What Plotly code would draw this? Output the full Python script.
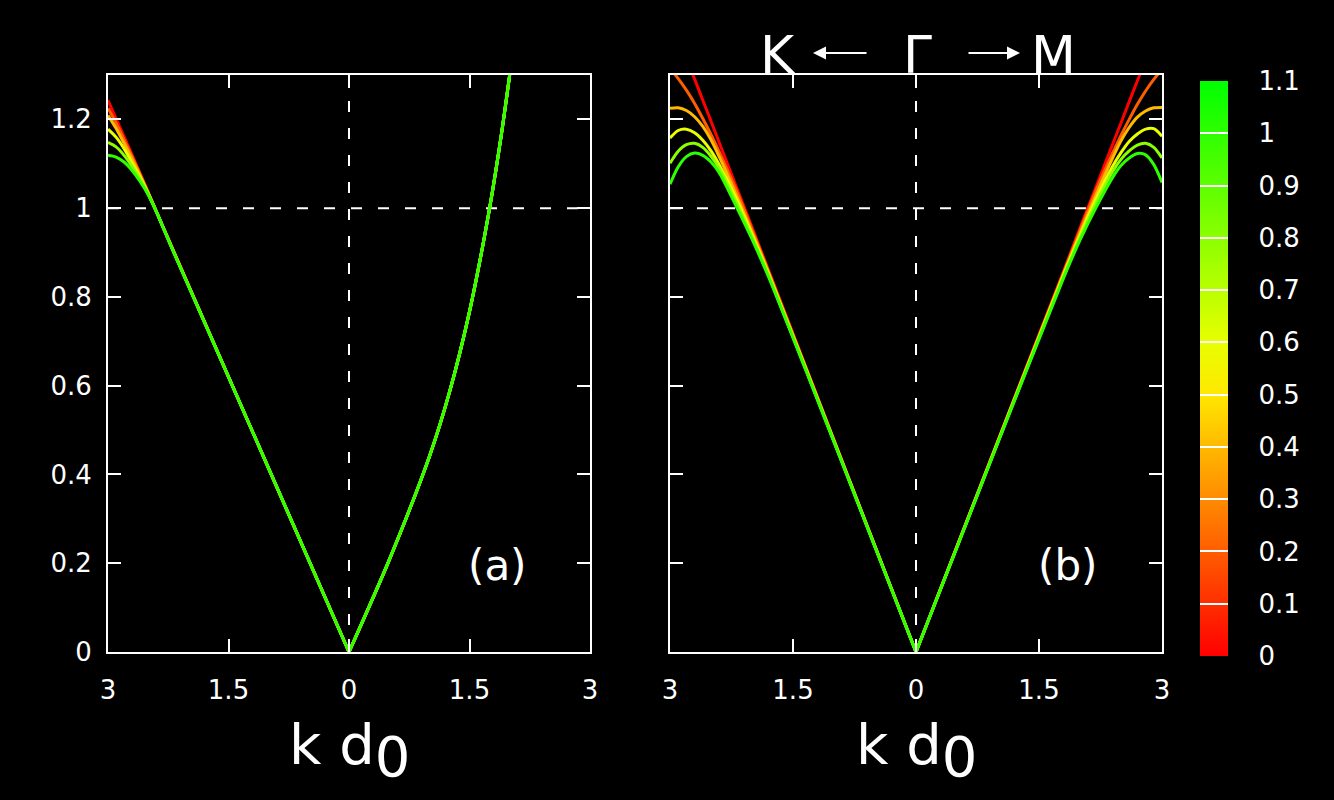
import colorsys
import plotly.graph_objects as go

# ---------------- data ----------------
PARAM = [0.0, 0.2, 0.4, 0.6, 0.8, 1.0]
CB_TICKS = [0, 0.1, 0.2, 0.3, 0.4, 0.5, 0.6, 0.7, 0.8, 0.9, 1.0, 1.1]

X_TICKVALS = [-3, -1.5, 0, 1.5, 3]
X_TICKTEXT = ["3", "1.5", "0", "1.5", "3"]
Y_TICKVALS = [0, 0.2, 0.4, 0.6, 0.8, 1.0, 1.2]
Y_TICKTEXT = ["0", "0.2", "0.4", "0.6", "0.8", "1", "1.2"]

# panel (a): K direction (left branch), one curve per parameter
A_LEFT_X = [-3.0, -2.9, -2.8, -2.7, -2.6, -2.5, -2.4, -2.2, -1.5, 0.0]
A_LEFT_Y = [
    [1.243, 1.202, 1.161, 1.120, 1.078, 1.036, 0.994, 0.911, 0.620, 0.0],
    [1.225, 1.192, 1.154, 1.116, 1.076, 1.035, 0.993, 0.910, 0.620, 0.0],
    [1.209, 1.180, 1.146, 1.110, 1.073, 1.034, 0.993, 0.909, 0.620, 0.0],
    [1.178, 1.160, 1.134, 1.102, 1.069, 1.033, 0.993, 0.909, 0.620, 0.0],
    [1.148, 1.138, 1.119, 1.094, 1.065, 1.032, 0.993, 0.908, 0.620, 0.0],
    [1.119, 1.115, 1.104, 1.085, 1.060, 1.030, 0.993, 0.908, 0.620, 0.0],
]
# panel (a): M direction (all curves coincide)
A_RIGHT_X = [0.0, 0.5, 1.0, 1.25, 1.5, 1.75, 1.9, 2.0]
A_RIGHT_Y = [0.0, 0.207, 0.44, 0.585, 0.767, 1.0, 1.17, 1.3]

# panel (b)
B_LEFT_X = [-3.0, -2.9, -2.8, -2.7, -2.6, -2.5, -2.4, -2.2, -2.0, -1.8, -1.0, 0.0]
B_LEFT_Y = [
    [1.430, 1.384, 1.338, 1.291, 1.243, 1.196, 1.148, 1.052, 0.957, 0.861, 0.478, 0.0],
    [1.315, 1.292, 1.266, 1.236, 1.202, 1.166, 1.127, 1.044, 0.952, 0.858, 0.477, 0.0],
    [1.225, 1.226, 1.220, 1.206, 1.184, 1.154, 1.116, 1.033, 0.945, 0.855, 0.476, 0.0],
    [1.158, 1.175, 1.178, 1.170, 1.153, 1.129, 1.098, 1.025, 0.940, 0.852, 0.475, 0.0],
    [1.101, 1.128, 1.143, 1.146, 1.137, 1.117, 1.090, 1.016, 0.935, 0.849, 0.474, 0.0],
    [1.054, 1.093, 1.116, 1.124, 1.119, 1.104, 1.080, 1.007, 0.930, 0.846, 0.473, 0.0],
]
B_RIGHT_X = [0.0, 1.0, 1.8, 2.0, 2.2, 2.4, 2.5, 2.6, 2.7, 2.8, 2.9, 3.0]
B_RIGHT_Y = [
    [0.0, 0.477, 0.858, 0.955, 1.050, 1.145, 1.192, 1.240, 1.287, 1.334, 1.380, 1.430],
    [0.0, 0.476, 0.855, 0.950, 1.042, 1.125, 1.164, 1.200, 1.234, 1.264, 1.290, 1.313],
    [0.0, 0.475, 0.852, 0.943, 1.031, 1.114, 1.152, 1.182, 1.205, 1.219, 1.226, 1.227],
    [0.0, 0.474, 0.850, 0.938, 1.022, 1.095, 1.125, 1.150, 1.167, 1.178, 1.179, 1.162],
    [0.0, 0.473, 0.846, 0.933, 1.013, 1.083, 1.110, 1.129, 1.142, 1.146, 1.137, 1.113],
    [0.0, 0.472, 0.843, 0.928, 1.003, 1.070, 1.096, 1.113, 1.123, 1.120, 1.098, 1.058],
]

# ---------------- style ----------------
W, H = 1334, 800
FONT = "DejaVu Sans"
CMAX = 1.1


def hue_color(v):
    h = (v / CMAX) * 120.0 / 360.0
    r, g, b = colorsys.hsv_to_rgb(h, 1.0, 1.0)
    return f"rgb({round(r*255)},{round(g*255)},{round(b*255)})"


colorscale = [[t / CMAX, hue_color(t)] for t in CB_TICKS]


def px_x(p):
    return p / W


def px_y(p):
    return 1 - p / H


fig = go.Figure()


def add_curve(xs, ys, color, xa, ya):
    fig.add_trace(go.Scatter(x=xs, y=ys, mode="lines",
                             line=dict(color=color, width=3, shape="spline", smoothing=0.8),
                             xaxis=xa, yaxis=ya, showlegend=False, hoverinfo="skip"))


for i, p in enumerate(PARAM):
    c = hue_color(p)
    add_curve(A_LEFT_X, A_LEFT_Y[i], c, "x", "y")
for i, p in enumerate(PARAM):
    c = hue_color(p)
    add_curve(A_RIGHT_X, A_RIGHT_Y, c, "x", "y")
for i, p in enumerate(PARAM):
    c = hue_color(p)
    add_curve(B_LEFT_X, B_LEFT_Y[i], c, "x2", "y2")
    add_curve(B_RIGHT_X, B_RIGHT_Y[i], c, "x2", "y2")

# colorbar carrier (off-range marker)
fig.add_trace(go.Scatter(
    x=[0], y=[-5], mode="markers", xaxis="x2", yaxis="y2", showlegend=False, hoverinfo="skip",
    marker=dict(color=[0], colorscale=colorscale, cmin=0, cmax=CMAX, showscale=True,
                colorbar=dict(
                    x=px_x(1200), xanchor="left", y=px_y(368.5), yanchor="middle",
                    thickness=28, thicknessmode="pixels", len=575, lenmode="pixels",
                    xpad=0, ypad=0, outlinewidth=0,
                    tickmode="array", tickvals=CB_TICKS,
                    ticktext=["\u00a0\u00a0\u00a0" + (f"{t:g}") for t in CB_TICKS],
                    ticks="inside", ticklen=28, tickwidth=2, tickcolor="white",
                    tickfont=dict(family=FONT, size=26, color="white"),
                    bgcolor="rgba(0,0,0,0)"))))

axis_common = dict(showline=True, linecolor="white", linewidth=2, mirror="allticks",
                   ticks="inside", ticklen=13, tickwidth=2, tickcolor="white",
                   showgrid=False, zeroline=False, automargin=False,
                   tickfont=dict(family=FONT, size=26, color="white"))

fig.update_layout(
    width=W, height=H, margin=dict(l=0, r=0, t=0, b=0, autoexpand=False),
    paper_bgcolor="black", plot_bgcolor="black",
    font=dict(family=FONT, color="white"),
    xaxis=dict(domain=[px_x(108), px_x(590)], range=[-3, 3], tickvals=X_TICKVALS,
               ticktext=X_TICKTEXT, anchor="y", ticklabelstandoff=14, **axis_common),
    yaxis=dict(domain=[px_y(652), px_y(75)], range=[0, 1.3], tickvals=Y_TICKVALS,
               ticktext=Y_TICKTEXT, anchor="x", ticklabelstandoff=9, **axis_common),
    xaxis2=dict(domain=[px_x(670), px_x(1162)], range=[-3, 3], tickvals=X_TICKVALS,
                ticktext=X_TICKTEXT, anchor="y2", ticklabelstandoff=14, **axis_common),
    yaxis2=dict(domain=[px_y(652), px_y(75)], range=[0, 1.3], tickvals=Y_TICKVALS,
                showticklabels=False, anchor="x2", **axis_common),
)

# dashed guide lines
for xr, yr in (("x", "y"), ("x2", "y2")):
    fig.add_shape(type="line", xref=xr, yref=yr, x0=0, x1=0, y0=0, y1=1.3,
                  line=dict(color="white", width=2, dash="11px,16px"), layer="below")
    fig.add_shape(type="line", xref=xr, yref=yr, x0=-3, x1=3, y0=1, y1=1,
                  line=dict(color="white", width=2, dash="11px,16px"), layer="below")

ann = []
# panel labels
ann.append(dict(text="(a)", x=1.85, y=0.195, xref="x", yref="y", showarrow=False,
                font=dict(family=FONT, size=42, color="white")))
ann.append(dict(text="(b)", x=1.85, y=0.195, xref="x2", yref="y2", showarrow=False,
                font=dict(family=FONT, size=42, color="white")))
# x-axis titles
for cx in (349, 916):
    ann.append(dict(text='k d<sub><span style="font-size:56px">0</span></sub>',
                    x=px_x(cx), y=px_y(750), xref="paper", yref="paper", showarrow=False,
                    xanchor="center", yanchor="middle",
                    font=dict(family=FONT, size=56, color="white")))
# K <- Gamma -> M
for txt, cx in (("K", 778), ("\u0393", 917.5), ("M", 1053)):
    ann.append(dict(text=txt, x=px_x(cx), y=px_y(55), xref="paper", yref="paper",
                    showarrow=False, xanchor="center", yanchor="middle",
                    font=dict(family=FONT, size=52, color="white")))
# arrows
ann.append(dict(text="", x=px_x(813), y=px_y(53), xref="paper", yref="paper",
                ax=55, ay=0, showarrow=True, arrowhead=2, arrowsize=1.3, arrowwidth=2,
                arrowcolor="white"))
ann.append(dict(text="", x=px_x(1020), y=px_y(53), xref="paper", yref="paper",
                ax=-53, ay=0, showarrow=True, arrowhead=2, arrowsize=1.3, arrowwidth=2,
                arrowcolor="white"))
fig.update_layout(annotations=ann)

fig.write_html("out.html")
